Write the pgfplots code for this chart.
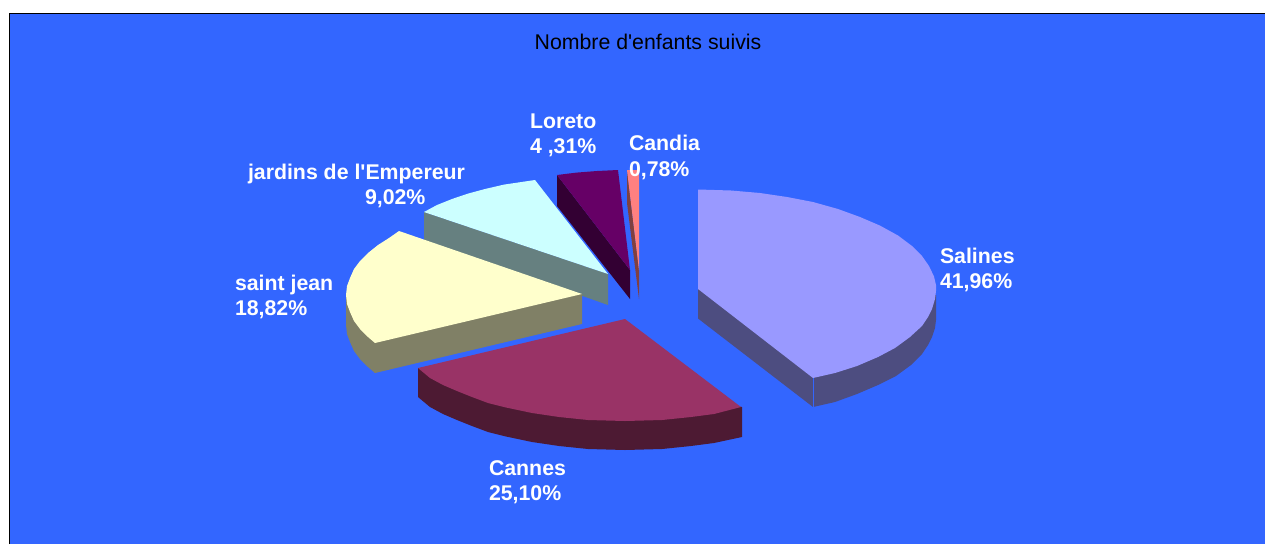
\documentclass[border=0pt]{standalone}
\usepackage{pgfplots}
\pgfplotsset{compat=1.18}
\usepackage{fontspec}
\setmainfont{Liberation Sans}
\definecolor{bg}{HTML}{3366FF}
\definecolor{salT}{HTML}{9999FF}\definecolor{salS}{HTML}{4D4D80}
\definecolor{canT}{HTML}{993366}\definecolor{canS}{HTML}{4D1A33}
\definecolor{sjT}{HTML}{FFFFCC}\definecolor{sjS}{HTML}{808066}
\definecolor{jarT}{HTML}{CCFFFF}\definecolor{jarS}{HTML}{668080}
\definecolor{lorT}{HTML}{660066}\definecolor{lorS}{HTML}{330033}
\definecolor{cdT}{HTML}{FF8080}\definecolor{cdS}{HTML}{804040}
\newcommand{\lab}[1]{\rule{0pt}{16pt}#1}
\tikzset{lbl/.style={inner sep=0pt,outer sep=0pt,text=white,font=\fontsize{21.3}{25.5}\selectfont\bfseries}}
\begin{document}
\begin{tikzpicture}
\begin{axis}[
  width=1265pt,height=544pt,scale only axis,
  xmin=0,xmax=1265,ymin=0,ymax=544,y dir=reverse,
  hide axis,no markers,
  every axis plot/.append style={draw=none,line width=0pt},
]
% page and background
\addplot[fill=white] coordinates {(0,0)(1265,0)(1265,544)(0,544)};
\addplot[fill=bg] coordinates {(9,13)(1265,13)(1265,544)(9,544)};
\addplot[draw=black,line width=1.2pt] coordinates {(9.5,544)(9.5,13.5)(1265,13.5)};
% Candia
\addplot[fill=cdS] coordinates {(627,170)(627,203)(639,299)(639,270)};
\addplot[fill=cdT] coordinates {(627,170)(639,170)(639,270)};
% Loreto
\addplot[fill=lorS] coordinates {(557,175)(557,206)(630,299)(630,270)};
\addplot[fill=lorT] coordinates {(557,175)(576.5,172.6)(597,171)(618,170)(630,270)};
% jardins de l'Empereur
\addplot[fill=jarS] coordinates {(424,212)(424,240)(608,305)(608,274)};
\addplot[fill=jarT] coordinates {(424,212)(437,205)(452,199)(468,193.6)(485,189)(504,184.6)(535,180)(608,274)};
% saint jean
\addplot[fill=sjS] coordinates {(346,295)(346,325)(347,334)(350,342)(354,351)(360,359)(368,367)(375,373)(582,324)(582,294)};
\addplot[fill=sjT] coordinates {(399,231)(389,238)(378,245)(368,253)(360,261)(354,269)(350,278)(347,286)(346,295)(347,304)(350,312)(354,321)(360,329)(368,337)(375,343)(582,294)};
% Cannes
\addplot[fill=canS] coordinates {(418,368)(418,397)(430,407)(443,414)(457,420)(472,426)(488,432)(506,436.5)(532,442)(559,446)(588,449)(625,450)(662,449)(691,446)(714,443)(742,437)(742,407)};
\addplot[fill=canT] coordinates {(625,319)(418,368)(430,378)(443,385)(457,391)(472,397)(488,403)(506,407.5)(532,413)(559,417)(588,420)(625,421)(662,420)(691,417)(714,414)(741,407)};
% Salines
\addplot[fill=salS] coordinates {(698,289)(698,318.5)(813,407)(835,402)(857,394)(878,385)(896,376)(911,365)(922,354)(928,345)(932,337)(935,328)(936,320)(936,295)};
\addplot[fill=salT] coordinates {(698,189.5)(731,190.5)(760,193)(787,197)(813,202)(838,209)(860,217)(880,225.6)(898,235.5)(912,246)(922,256)(929,266)(934,276.5)(936,285)(936,291)(935,299)(932,309)(928,317)(922,326)(910,337)(895,348)(878,357)(857,366)(835,373)(813,378)(698,289)};
\addplot[draw=bg,line width=0.7pt] coordinates {(813.5,378)(813.5,407)};
% texts
\node[anchor=base,inner sep=0pt,font=\fontsize{21.3}{25}\selectfont] at (axis cs:648,49) {Nombre d\textquotesingle enfants suivis};
\node[lbl,align=left,anchor=north west] at (axis cs:940,247) {\lab{Salines}\\41,96\%};
\node[lbl,align=left,anchor=north west] at (axis cs:235,274) {\lab{saint jean}\\18,82\%};
\node[lbl,align=left,anchor=north west] at (axis cs:489,459) {\lab{Cannes}\\25,10\%};
\node[lbl,align=left,anchor=north west] at (axis cs:530,112) {\lab{Loreto}\\4 ,31\%};
\node[lbl,align=left,anchor=north west] at (axis cs:629,134.5) {\lab{Candia}\\0,78\%};
\node[lbl,align=left,anchor=north west] at (axis cs:248,163) {\lab{jardins de l\textquotesingle Empereur}\\\hspace*{117pt}9,02\%};
\end{axis}
\end{tikzpicture}
\end{document}
